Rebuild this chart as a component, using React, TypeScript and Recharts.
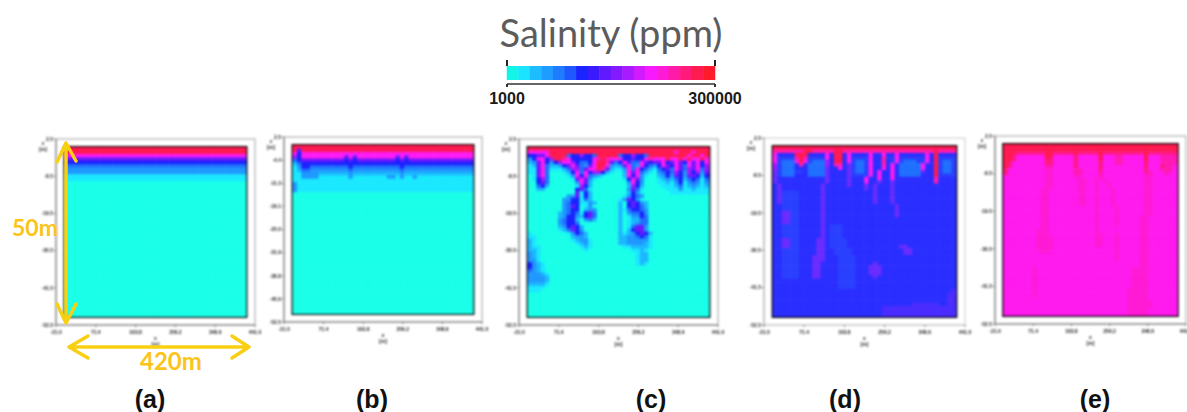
import { ComposedChart, Scatter, XAxis, YAxis, ReferenceArea, ReferenceLine, Label } from 'recharts'

// salinity classes, one character per model cell
const LEVELS: Record<string, string> = {
    '0': '#1affe8',
    '1': '#1ae8ff',
    '2': '#1cb8ff',
    '3': '#1f98ff',
    '4': '#2070ff',
    '5': '#1a20ff',
    '6': '#6a1aff',
    '7': '#a01aff',
    '8': '#ff1af4',
    '9': '#ff1ab0',
    a: '#ff1a50',
    b: '#2a2eff',
    c: '#2a40ff',
    v: '#6a2cff',
    w: '#4a2cff',
    m: '#ff1aee',
    n: '#ff1ad4',
    p: '#ff1ab4',
    r: '#ff1a7c',
}

const COLUMNS = 42
const ROWS = 50

const xTicks = [-21, 71.4, 163.8, 256.2, 348.6, 441]
const zTicks = [2.5, -8.5, -19.5, -30.5, -41.5, -52.5]
const zTicksFine = [2.5, -4.4, -11.3, -18.1, -25, -31.9, -38.8, -45.6, -52.5]

// a short row repeats its last character, the last row repeats to the bottom
const rowsA = ['a', 'a', '8', '6', '5', '4', '3', '3', '1', '1', '0']

const rowsB = [
    'a',
    'a6a',
    '8588',
    '7588888888886868888888886868',
    '4566666666665656666666665656',
    '245',
    '1355444444444544444444444544',
    '1244333333333433333333333433',
    '1133332222222322222222222322',
    '113333111111131111111133131131',
    '1',
    '31',
    '31',
    '31',
    '0',
]

const rowsC = [
    'a',
    '88888aaaaaaaaaaaaaaaaaaaaaaaaaaaaa8aaa8aaa',
    '55668aaaa4557554aaaaa4557554aaaaaaaaa8aa8a',
    '358857aa985555589a9888556558988 8a88a8a88a8',
    '236853578875445 8aa964586448656685686586858',
    '12684223568643 68aa8323684385435865864 86857',
    '116841112477468 8a96211384854214564864 76847',
    '116840001258485 775210028684210345475375736',
    '016840000138584 321000028583100235365366525',
    '015740000016863 100000015863000123245245414',
    '005640000003862 000000003853000112135134313',
    '004520000001752 000000002752000011124123212',
    '002200000005641 000000003641000001113112111',
    '000000000006152 000000002531000000111111111',
    '000000000336152 000000013543000000000000000',
    '000000003355142 000000136531000',
    '000000003455113 200000205653200',
    '000000003465013 000000205654200',
    '000000003455023 300000214554300',
    '000000023454156 400000203445300',
    '000000023553256 400000201335400',
    '000000034552034 200000201224400',
    '000000034554000 000000201234400',
    '000000023565200 000000201466300',
    '000000012465300 000000202566300',
    '100000000135420 000000212356520',
    '110000000023320 000000223345410',
    '210000000012331 000000223333310',
    '210000000001231 000000223333210',
    '211000000000121 000000011222210',
    '221000000000010 000000000112100',
    '321000000000000 000000000012200',
    '321000000000000 000000000012200',
    '331000000000000 000000000012200',
    '532100000000000 000000000012100',
    '532100',
    '432100',
    '333210',
    '333320',
    '333320',
    '222210',
    '111100',
    '111000',
    '0',
].map((row) => row.replace(/ /g, ''))

const rowsD = [
    'a',
    '9999999aa99999aa999999999999999999999a9999',
    '8bbbbaaabbbb8baab8bbbb8bb8bb8bbbbbb8babbbb',
    '8cccc9a9cccc8baab8cccc8bb9cc8cccccc8bacccc',
    '8c4448a8c4447baab8c44c8bb9bc8c444cc8bac44c',
    '7c444b9b44447b99bvc44c8bb9b8b444448bbac44c',
    '7c444bbb4444vbb8bvc44c8bb8b8b444448bbac44c',
    'vc444ccb4444vbbbbvc44c8b8bb8b44444vbbac44c',
    'vc444bbb4444vbbbbvcccc8b8bb8b44444bbbacccc',
    'vbbbbbbbbbbbvbbbbvbbb8bb8bb8bbbbbbbbb9bbbb',
    'vbbbbbbbbbbbvbbbbvbbb8bbvbbvbbbbbbbbb9bbbb',
    'bvbbbbbbbbbvbbbbbvbbbvbvbbbvb',
    'bvbbbbbbbbbvbbbbbbbbbvbvbbbvb',
    'bvccccbbbbbvbbbbbbbbbbbvbbbvb',
    'bvccccbbbbbvbbbbbbbbbbbvbbbvb',
    'bvccccbbbbbvbbbbbbbbbbbvbbbvb',
    'bvccccbbbbbvbbbbbbbbbbbvbbbvb',
    'bbccccbbbbbvbbbbbbbbbbbbbbbbvb',
    'bbccccbbbbbvbbbbbbbbbbbbbbbbvb',
    'bbvvccbbbbbvbbbbbbbbbbbbbbbbvb',
    'bbvvccbbbbbvbbbbbbbbbbbbbbbbvb',
    'bbvvccbbbbbvb',
    'bbvvccbbbbbvb',
    'bbccccbbbbbvbcccb',
    'bbccccbbbbbvbcccb',
    'bbccccbbbbbvbcccb',
    'bbccccbbbbbvbcccb',
    'bbvvccbbbbvvbccccb',
    'bbvvccbbbbvvbccccb',
    'bbvvccbbbbvvbccccbbbbbbbbbbbbvvb',
    'bbccccbbbbvvbbccccbbbbbbbbbbbbvvb',
    'bbccccbbbbvvbbccccbbbbbbbbbbbbvvb',
    'bbccccbbbvvvbbbccccb',
    'bbccccbbbvvvbbbccccb',
    'bbccccbbbvvbbbbccccbbbbvb',
    'bbccccbbbvvbbbbccccbbbvvvb',
    'bbccccbbbvvbbbbccccbbbvvvb',
    'bbccccbbbvvbbbbccccbbbvvvb',
    'bbccccbbbvvbbbbccccbbbbvb',
    'bbbbbbbbbbbbbbbccccb',
    'bbbbbbbbbbbbbbbccccb',
    'bbbbbbbbbbbbbbbccccb',
    'bbbbbbbbbbbbbbbbbbbbbbbbbbbbbbbbbbbbbbbbbw',
    'bbbbbbbbbbbbbbbbbbbbbbbbbbbbbbbbbbbbbbbbww',
    'bbbbbbbbbbbbbbbbbbbbbbbbbbbbbbbbbbbbbbbbww',
    'bbbbbbbbbbbbbbbbbbbbbbbbbbbbbbbbbbbbbbbbww',
    'bbbbbbbbbbbbbbbbbbbbbbbbbbbbbbbbwwwwwwbbww',
    'bbbbbbbbbbbbbbbbbbbbbbbbbwwwwwwwwwwwwwwwww',
    'bbbbbbbbbbbbbbbbbbbbbbbbbwwwwwwwwwwwwwwwww',
    'bbbbbbbbbbbbbbbbbbbbbbbbbwwwwwwwwwwwwwwwww',
]

const rowsE = [
    'a',
    'a',
    'aaarrrrrrraarrrrrarrrrrarrrrrrrrrrar',
    'aarmmmmmmmaammmmmrmmmmmammmppmmmmmammmpppp',
    'aarmmmmmmmrrmmmmmrmmmmmammmppmmmmmammmpppp',
    'armmmmmmmmrrmmmmmrmmmmmrmmmppmmmmmrmmmpppp',
    'armmmmmmmmppmmmmmrmmmmmrmmmmmmmmmmrmmmrppm',
    'rmmmmmmmmmnnmmmmmppmmmmrmmmmmmmmmmrmmmpppm',
    'rmmmmmmmmmnnmmmmmppmmmmpmmmmmmmmmmppmmmpmm',
    'mmmmmmmmmmnnmmmmmnnmmmmpmmmmmmmmmmnnm',
    'mmmmmmmmmmnnmmmmmmnnmmnmnmmmmmmmmmnnm',
    'mmmmmmmmmmnnmmmmmmnnmmnmmnmmmmmmmmnnm',
    'mmmmmmmmmmnnmmmmmmnnmmnmmnmmmmmmmmnnm',
    'mmmmmmmmmnnmmmmmmmnnmmnmmmnmmmmmmmnnm',
    'mmmmmmmmmnnmmmmmmmnnmmnmmmnmmmmmmmnnm',
    'mmmmmmmmmnnmmmmmmmnnmmnmmmnmmmmmmmnnm',
    'mmmmmmmmmnnmmmmmmmnnmmnmmmnmmmmmmmnnm',
    'mmmmmmmmmnnmmmmmmmnnmmnmmmnmmmmmmmnnm',
    'mmmmmmmmmnnmmmmmmmmmmmnmmmmnmmmmmmnnm',
    'mmmmmmmmmnnmmmmmmmmmmmnmmmmnmmmmmmnnm',
    'mmmmmmmmmnnmmmmmmmmmmmnmmmmnmmmmmmnnm',
    'mmmmmmmmmnnmmmmmmmmmmmnmmmmnmmmmmnnm',
    'mmmmmmmmmnnmmmmmmmmmmmnmmmmnmmmmmnnm',
    'mmmmmmmmmnnmmmmmmmmmmmnmmmmnmmmmmnnm',
    'mmmmmmmmmnnmmmmmmmmmmmnmmmmmmmmmmnnm',
    'mmmmmmmmnnnmmmmmmmmmmmnmmmmmmmmmmnnm',
    'mmmmmmmmnnnmmmmmmmmmmmnnmmmnmmmmmnnm',
    'mmmmmmmmnnnnmmmmmmmmmmnnmmmnmmmmmnnm',
    'mmmmmmmmnnnnmmmmmmmmmmnnmmmnmmmmmnnm',
    'mmmmmmmmnnnnmmmmmmmmmmnnmmmnmmmmmnnm',
    'mmmmmmmmnnnnmmmmmmmmmmmmmmmnmmmmmnnm',
    'mmmmmmmmmnnmmmmmmmmmmmmmmmmnmmmmmnnm',
    'mmmmmmmmmmmmmmmmmmmmmmmmmmmnmmmmmnnm',
    'mmmmmmmmmmmmmmmmmmmmmmmmmmmnmmmmmnnm',
    'mmmmmmmmmmmmmmmmmmmmmmmmmmmmmmmmmnnm',
    'mmmmmmmmmmmmmmmmmmmmmmmmmmmmmmmmmnnm',
    'mmmmmmmnmmmmmmmmmmmmmmmmmmmmmmmnnnnm',
    'mmmmmmmnmmmmmmmmmmmmmmmmmmmmmmmnnnnm',
    'mmmmmmmnmmmmmmmmmmmmmmmmmmmmmmmnnnnm',
    'mmmmmmmnmmmmmmmmmmmmmmmmmmmmmmmnnnnm',
    'mmmmmmmnmmmmmmmmmmmmmmmmmmmmmmmnnnnm',
    'mmmmmmmnmmmmmmmmmmmmmmmmmmmmmmmnnnnm',
    'mmmmmmmnmmmmmmmmmmmmmmmmmmmmmmnnnnnm',
    'mmmmmmmnmmmmmmmmmmmmmmmmmmmmmmnnnnnm',
    'mmmmmmmnmmmmmmmmmmmmmmmmmmmmmmnnnnnm',
    'mmmmmmmmmmmmmmmmmmmmmmmmmmmmmmnnnnnm',
    'mmmmmmmmmmmmmmmmmmmmmmmmmmmmmmnnnnnnm',
    'mmmmmmmmmmmmmmmmmmmmmmmmmmmmmmnnnnnnm',
    'mmmmmmmmmmmmmmmmmmmmmmmmmmmmmmnnnnnm',
    'mmmmmmmmmmmmmmmmmmmmmmmmmmmmmmnnnnnm',
]

const colorbarValues = [
    9306, 25917, 42528, 59139, 75750, 92361, 108972, 125583, 142194, 158806, 175417, 192028, 208639, 225250, 241861,
    258472, 275083, 291694,
]
const colorbarColors = [
    '#12f5e6', '#1ae4ff', '#1dbcff', '#1f9cff', '#1f7cff', '#1f58ff', '#1a24ff', '#3a1aff', '#601aff', '#841aff',
    '#a81aff', '#d21aff', '#f81aff', '#ff1ad8', '#ff1aa8', '#ff1a7c', '#ff1a50', '#ff1a2c',
]
const colorbarTicks = [1000, 300000]

function toCells(rows: string[]) {
    const cells = []
    for (let r = 0; r < ROWS; r++) {
        const row = rows[r] ?? rows[rows.length - 1]
        for (let c = 0; c < COLUMNS; c++) {
            const key = row[Math.min(c, row.length - 1)]
            cells.push({ x: c * 10 + 5, z: -(r + 0.5), fill: LEVELS[key] })
        }
    }
    return cells
}

const AXIS_W = 30
const TOP = 10
const smallText = { fontSize: 5, fontWeight: 700, fill: '#222', fontFamily: 'Liberation Sans' }

function Panel({ rows, left, right, top, bottom, ticks = zTicks, dotted = false }: any) {
    const w = right - left
    const h = bottom - top
    const cw = (w * 10) / 462 + 0.6
    const ch = h / 55 + 0.6
    const axisLine = { stroke: dotted ? '#888' : '#a4a4a4', strokeWidth: dotted ? 1 : 2, strokeDasharray: dotted ? '1 1' : undefined }
    return (
        <div style={{ position: 'absolute', left: left - AXIS_W, top: top - TOP, filter: 'blur(0.8px)' }}>
            <ComposedChart
                width={w + AXIS_W + 14}
                height={h + TOP + 32}
                data={[]}
                margin={{ top: TOP, right: 14, bottom: 0, left: 0 }}
            >
                <XAxis
                    dataKey="x"
                    type="number"
                    domain={[-21, 441]}
                    ticks={xTicks}
                    interval={0}
                    height={32}
                    tickFormatter={(v: number) => v.toFixed(1)}
                    tick={smallText}
                    tickLine={{ stroke: '#777' }}
                    tickSize={2}
                    tickMargin={3}
                    axisLine={axisLine}
                >
                    <Label value="x" position="insideTop" offset={11} {...smallText} />
                    <Label value="[m]" position="insideTop" offset={17} {...smallText} />
                </XAxis>
                <YAxis
                    dataKey="z"
                    type="number"
                    domain={[-52.5, 2.5]}
                    ticks={ticks}
                    interval={0}
                    width={AXIS_W}
                    tickFormatter={(v: number) => v.toFixed(1)}
                    tick={smallText}
                    tickLine={{ stroke: '#777' }}
                    tickSize={2}
                    tickMargin={1}
                    axisLine={axisLine}
                >
                    <Label
                        content={(p: any) => (
                            <text x={AXIS_W - 13} y={p.viewBox.y + 6} textAnchor="middle" {...smallText}>
                                <tspan x={AXIS_W - 13}>z</tspan>
                                <tspan x={AXIS_W - 13} dy={6}>[m]</tspan>
                            </text>
                        )}
                    />
                </YAxis>
                <ReferenceArea
                    x1={-21}
                    x2={441}
                    y1={-52.5}
                    y2={2.5}
                    fill="#fff"
                    fillOpacity={1}
                    stroke={dotted ? '#999' : '#cfcfcf'}
                    strokeWidth={dotted ? 1 : 2}
                    strokeDasharray={dotted ? '1 1' : undefined}
                />
                <Scatter
                    data={toCells(rows)}
                    isAnimationActive={false}
                    shape={(p: any) => (
                        <rect
                            x={p.cx - cw / 2}
                            y={p.cy - ch / 2}
                            width={cw}
                            height={ch}
                            fill={p.payload.fill}
                        />
                    )}
                />
                <ReferenceArea x1={0} x2={420} y1={-50} y2={0} fill="none" stroke="#000" strokeWidth={3} />
            </ComposedChart>
        </div>
    )
}

function Colorbar() {
    const cw = 208 / colorbarValues.length + 0.5
    const data = colorbarValues.map((v, i) => ({ v, y: 11, fill: colorbarColors[i] }))
    return (
        <div style={{ position: 'absolute', left: 467, top: 50 }}>
            <ComposedChart width={288} height={64} data={[]} margin={{ top: 10, right: 40, bottom: 0, left: 40 }}>
                <XAxis
                    dataKey="v"
                    type="number"
                    domain={[1000, 300000]}
                    ticks={colorbarTicks}
                    interval={0}
                    height={30}
                    tick={{ fontSize: 16, fontWeight: 700, fill: '#1a1a1a', fontFamily: 'Liberation Sans' }}
                    tickLine={{ stroke: '#333', strokeWidth: 2 }}
                    tickSize={3}
                    tickMargin={6}
                    axisLine={{ stroke: '#333', strokeWidth: 1.5 }}
                />
                <YAxis dataKey="y" type="number" domain={[0, 24]} hide />
                <Scatter
                    data={data}
                    isAnimationActive={false}
                    shape={(p: any) => <rect x={p.cx - cw / 2} y={p.cy - 7} width={cw} height={14} fill={p.payload.fill} />}
                />
                {colorbarTicks.map((t) => (
                    <ReferenceLine
                        key={t}
                        segment={[
                            { x: t, y: 18 },
                            { x: t, y: 24 },
                        ]}
                        stroke="#222"
                        strokeWidth={2}
                    />
                ))}
            </ComposedChart>
        </div>
    )
}

const captions = [
    { text: '(a)', x: 150 },
    { text: '(b)', x: 372 },
    { text: '(c)', x: 651 },
    { text: '(d)', x: 845 },
    { text: '(e)', x: 1095 },
]

export default function App() {
    return (
        <div
            style={{
                position: 'absolute',
                left: 0,
                top: 0,
                width: 1187,
                height: 412,
                overflow: 'hidden',
                background: '#fff',
            }}
        >
            <div
                style={{
                    position: 'absolute',
                    left: 461,
                    width: 300,
                    top: 6,
                    textAlign: 'center',
                    fontFamily: 'Lato',
                    fontWeight: 400,
                    fontSize: 38,
                    color: '#5c5c5c',
                    lineHeight: '52px',
                }}
            >
                Salinity (ppm)
            </div>
            <Colorbar />
            <Panel rows={rowsA} left={56} right={255} top={139} bottom={325} />
            <Panel rows={rowsB} left={284} right={482} top={137} bottom={322} ticks={zTicksFine} />
            <Panel rows={rowsC} left={519} right={718} top={139} bottom={325} />
            <Panel rows={rowsD} left={764} right={965} top={138} bottom={325} dotted />
            <Panel rows={rowsE} left={995} right={1186} top={136} bottom={324} />
            <svg width={1187} height={412} style={{ position: 'absolute', left: 0, top: 0 }}>
                <g fill="none" stroke="#f9cf12" strokeWidth={3.5} strokeLinecap="round" strokeLinejoin="round">
                    <path d="M66 143V323M57 162L66 143L76 161M57 304L66 323L76 304" />
                    <path d="M69 347H249M88 336L69 347L88 358M232 336L249 347L232 358" />
                </g>
                <text x={12} y={236} fontFamily="Lato" fontWeight={700} fontSize={23} fill="#fcc419">
                    50m
                </text>
                <text x={140} y={370} fontFamily="Lato" fontWeight={700} fontSize={24} fill="#fcc419">
                    420m
                </text>
                {captions.map((c) => (
                    <text
                        key={c.text}
                        x={c.x}
                        y={408}
                        textAnchor="middle"
                        fontFamily="Liberation Sans"
                        fontWeight={700}
                        fontSize={25}
                        fill="#111"
                    >
                        {c.text}
                    </text>
                ))}
            </svg>
        </div>
    )
}
